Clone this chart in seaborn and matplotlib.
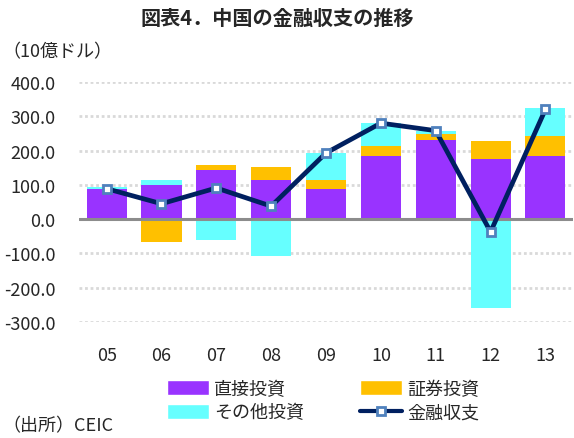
import matplotlib
matplotlib.use("Agg")
import matplotlib.pyplot as plt
import numpy as np
import seaborn as sns
from matplotlib.patches import Patch
from matplotlib.lines import Line2D

# ------------------------------------------------------------
# データ（10億ドル）
# ------------------------------------------------------------
years = ["05", "06", "07", "08", "09", "10", "11", "12", "13"]
direct = [89, 101, 142, 113, 87, 183, 230, 174, 183]        # 直接投資
portfolio = [0, -66, 15, 39, 27, 29, 18, 53, 60]            # 証券投資
other = [5, 14, -61, -108, 79, 69, 10, -258, 81]            # その他投資
balance = [89, 45, 91, 38, 193, 280, 258, -37, 320]         # 金融収支
yticks = [-300, -200, -100, 0, 100, 200, 300, 400]

C_DIRECT = "#9933FF"
C_PORT = "#FFC000"
C_OTHER = "#66FFFF"
C_LINE = "#002060"

sns.set_style("white")
plt.rcParams["font.family"] = ["Noto Sans CJK JP", "DejaVu Sans"]

fig = plt.figure(figsize=(5.74, 4.39), dpi=100)
ax = fig.add_axes([0.138, 0.264, 0.860, 0.547])

# 正負を分けて積み上げ（累積値を大きい順に重ね描き）
d = np.array(direct, dtype=float)
p = np.array(portfolio, dtype=float)
o = np.array(other, dtype=float)
pos1 = np.clip(d, 0, None)
pos2 = pos1 + np.clip(p, 0, None)
pos3 = pos2 + np.clip(o, 0, None)
neg1 = np.clip(d, None, 0)
neg2 = neg1 + np.clip(p, None, 0)
neg3 = neg2 + np.clip(o, None, 0)

bar_kw = dict(width=0.73, saturation=1, ax=ax, zorder=2, linewidth=0)
for top, bot, col in [(pos3, neg3, C_OTHER), (pos2, neg2, C_PORT), (pos1, neg1, C_DIRECT)]:
    sns.barplot(x=years, y=top, color=col, **bar_kw)
    sns.barplot(x=years, y=bot, color=col, **bar_kw)

# 金融収支（折れ線）
sns.lineplot(
    x=np.arange(len(years)), y=balance, ax=ax, color=C_LINE, linewidth=3.4,
    marker="s", markersize=6, markerfacecolor="white", markeredgecolor="#4F81BD",
    markeredgewidth=2, zorder=4,
)

# グリッド・軸
for v in yticks:
    if v != 0:
        ax.axhline(v, color="#D9D9D9", linewidth=2, linestyle=(0, (1, 1)), zorder=0)
ax.axhline(0, color="#8C8C8C", linewidth=2.2, zorder=3)

ax.set_xlim(-0.5, len(years) - 0.5)
ax.set_ylim(-300, 400)
ax.set_yticks(yticks)
ax.set_yticklabels([f"{v:.1f}" for v in yticks])
ax.set_xticks(range(len(years)))
ax.set_xticklabels(years)
ax.tick_params(axis="y", length=0, pad=17, labelsize=13)
ax.tick_params(axis="x", length=0, pad=17, labelsize=13)
ax.set_xlabel("")
ax.set_ylabel("")
for s in ax.spines.values():
    s.set_visible(False)

# タイトル・注記
fig.text(0.483, 0.958, "図表4．中国の金融収支の推移", ha="center", va="center",
         fontsize=14.5, fontweight="bold")
fig.text(0.005, 0.882, "（10億ドル）", ha="left", va="center", fontsize=13)
fig.text(0.005, 0.028, "（出所）CEIC", ha="left", va="center", fontsize=13)

# 凡例
handles = [
    Patch(facecolor=C_DIRECT, label="直接投資"),
    Patch(facecolor=C_OTHER, label="その他投資"),
    Patch(facecolor=C_PORT, label="証券投資"),
    Line2D([0], [0], color=C_LINE, linewidth=3, marker="s", markersize=6,
           markerfacecolor="white", markeredgecolor="#4F81BD", markeredgewidth=2,
           label="金融収支"),
]
fig.legend(handles=handles, ncol=2, loc="center left", bbox_to_anchor=(0.263, 0.085),
           frameon=False, fontsize=13, handlelength=2.3, handleheight=0.9,
           handletextpad=0.3, columnspacing=3.1, labelspacing=0.3)

plt.savefig("out.png", dpi=100)
plt.close()
